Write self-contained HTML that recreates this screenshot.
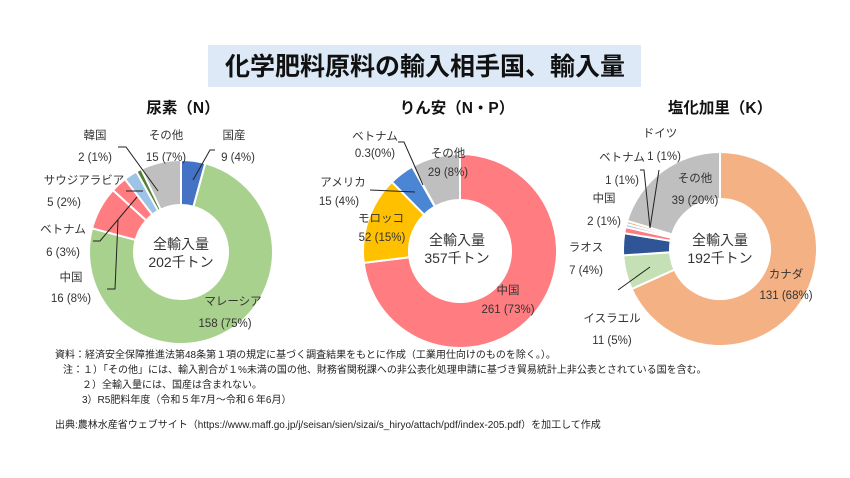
<!DOCTYPE html>
<html><head><meta charset="utf-8"><style>
body{margin:0;background:#fff;}
svg{display:block;font-family:"Liberation Sans","Noto Sans CJK JP",sans-serif;}
.l{font-size:11.5px;fill:#333;text-anchor:middle;}
.c{font-size:14px;fill:#333;text-anchor:middle;}
.h{font-size:15.5px;font-weight:bold;fill:#111;text-anchor:middle;}
.n{font-size:10px;fill:#222;}
.ln{stroke:#222;stroke-width:1;fill:none;}
</style></head><body>
<svg id="s" width="850" height="478" viewBox="0 0 850 478">
<rect x="208" y="45" width="433" height="42" fill="#dde9f6"/>
<text x="425" y="75" text-anchor="middle" font-size="25" font-weight="bold" fill="#111">化学肥料原料の輸入相手国、輸入量</text>
<text class="h" x="183" y="113">尿素（N）</text>
<text class="h" x="457" y="113">りん安（N・P）</text>
<text class="h" x="720" y="113">塩化加里（K）</text>
<g id="pies"></g>
<!-- chart1 labels -->
<text class="l" x="95" y="139">韓国</text><text class="l" x="95" y="161">2 (1%)</text>
<text class="l" x="166" y="139">その他</text><text class="l" x="166" y="161">15 (7%)</text>
<text class="l" x="234" y="139">国産</text><text class="l" x="238" y="161">9 (4%)</text>
<text class="l" x="84" y="184">サウジアラビア</text><text class="l" x="64" y="206">5 (2%)</text>
<text class="l" x="63" y="233">ベトナム</text><text class="l" x="63" y="256">6 (3%)</text>
<text class="l" x="71" y="281">中国</text><text class="l" x="71" y="302">16 (8%)</text>
<text class="l" x="233" y="305">マレーシア</text><text class="l" x="225" y="327">158 (75%)</text>
<text class="c" x="181" y="249">全輸入量</text><text class="c" x="181" y="267">202千トン</text>
<path class="ln" d="M118,147 L126,147 L158,191"/>
<path class="ln" d="M126,191 L143,191"/>
<path class="ln" d="M93,241 L100,241 L137,197"/>
<path class="ln" d="M107,289 L115,289 L118,220"/>
<path class="ln" d="M215,150 L210,150 L193,180"/>
<!-- chart2 labels -->
<text class="l" x="375" y="140">ベトナム</text><text class="l" x="375" y="157">0.3(0%)</text>
<text class="l" x="448" y="157">その他</text><text class="l" x="448" y="176">29 (8%)</text>
<text class="l" x="343" y="186">アメリカ</text><text class="l" x="339" y="205">15 (4%)</text>
<text class="l" x="381" y="222">モロッコ</text><text class="l" x="382" y="241">52 (15%)</text>
<text class="l" x="508" y="294">中国</text><text class="l" x="508" y="313">261 (73%)</text>
<text class="c" x="457" y="245">全輸入量</text><text class="c" x="457" y="263">357千トン</text>
<path class="ln" d="M398,142 L404,142 L423,185"/>
<path class="ln" d="M370,190 L415,192"/>
<!-- chart3 labels -->
<text class="l" x="660" y="137">ドイツ</text><text class="l" x="664" y="160">1 (1%)</text>
<text class="l" x="622" y="161">ベトナム</text><text class="l" x="622" y="184">1 (1%)</text>
<text class="l" x="604" y="202">中国</text><text class="l" x="604" y="225">2 (1%)</text>
<text class="l" x="695" y="182">その他</text><text class="l" x="695" y="204">39 (20%)</text>
<text class="l" x="586" y="251">ラオス</text><text class="l" x="586" y="274">7 (4%)</text>
<text class="l" x="786" y="278">カナダ</text><text class="l" x="786" y="299">131 (68%)</text>
<text class="l" x="612" y="322">イスラエル</text><text class="l" x="612" y="344">11 (5%)</text>
<text class="c" x="720" y="245">全輸入量</text><text class="c" x="720" y="263">192千トン</text>
<path class="ln" d="M640,170 L644,170 L650,228"/>
<path class="ln" d="M659,170 L650,228"/>
<path class="ln" d="M618,290 L650,267"/>
<!-- notes -->
<text class="n" x="55" y="358">資料：経済安全保障推進法第48条第１項の規定に基づく調査結果をもとに作成（工業用仕向けのものを除く。）。</text>
<text class="n" x="63" y="373">注：１）「その他」には、輸入割合が１%未満の国の他、財務省関税課への非公表化処理申請に基づき貿易統計上非公表とされている国を含む。</text>
<text class="n" x="82" y="388">２）全輸入量には、国産は含まれない。</text>
<text class="n" x="82" y="403">3）R5肥料年度（令和５年7月～令和６年6月）</text>
<text class="n" x="55" y="428">出典:農林水産省ウェブサイト（https://www.maff.go.jp/j/seisan/sien/sizai/s_hiryo/attach/pdf/index-205.pdf）を加工して作成</text>
</svg>
<script>
var charts=[
 {cx:181,cy:252,R:92,r:47,d:[[9,'#4472c4'],[158,'#a9d18e'],[16,'#ff7c80'],[6,'#ff7c80'],[5,'#9dc3e6'],[2,'#548235'],[15,'#bfbfbf']]},
 {cx:460,cy:251,R:97,r:51,d:[[261,'#ff7c80'],[52,'#ffc000'],[15,'#4a86d4'],[0.3,'#9dc3e6'],[29,'#bfbfbf']]},
 {cx:720,cy:249,R:97,r:50,d:[[131,'#f4b183'],[11,'#c5e0b4'],[7,'#2f5597'],[2,'#ff7c80'],[1,'#9dc3e6'],[1,'#f4b183'],[39,'#bfbfbf']]}
];
var g=document.getElementById('pies'),h='';
charts.forEach(function(c){
 var t=0;c.d.forEach(function(v){t+=v[0];});
 var a=0;
 c.d.forEach(function(v){
  var a0=a/t*2*Math.PI,a1=(a+v[0])/t*2*Math.PI;a+=v[0];
  function p(rr,an){return (c.cx+rr*Math.sin(an)).toFixed(2)+','+(c.cy-rr*Math.cos(an)).toFixed(2);}
  var lg=(a1-a0)>Math.PI?1:0;
  h+='<path d="M'+p(c.R,a0)+' A'+c.R+','+c.R+' 0 '+lg+' 1 '+p(c.R,a1)+' L'+p(c.r,a1)+' A'+c.r+','+c.r+' 0 '+lg+' 0 '+p(c.r,a0)+' Z" fill="'+v[1]+'" stroke="#fff" stroke-width="2"/>';
 });
});
g.innerHTML=h;
</script>
</body></html>
